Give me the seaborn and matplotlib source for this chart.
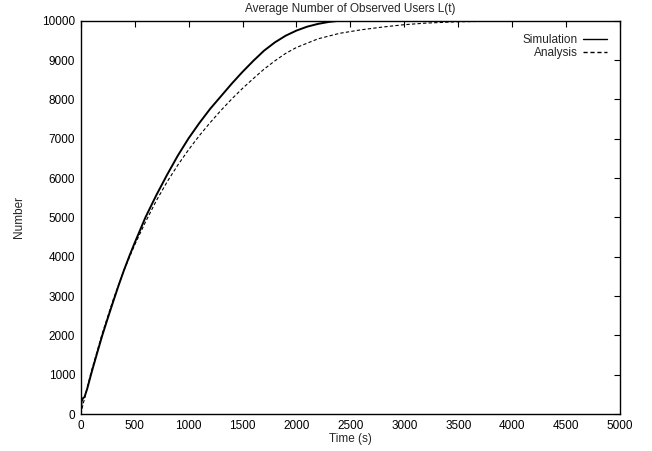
import matplotlib
matplotlib.use("Agg")
import matplotlib.pyplot as plt
import seaborn as sns
import pandas as pd

# Simulation run: average number of observed users over time
sim_time = [0, 8, 20, 35, 60, 100, 150, 200, 250, 300, 350, 400, 450, 500,
            600, 700, 800, 900, 1000, 1100, 1200, 1300, 1400, 1500, 1600,
            1700, 1800, 1900, 2000, 2100, 2200, 2300, 2400, 3000, 4000, 5000]
sim_users = [0, 320, 400, 430, 640, 1050, 1530, 2000, 2430, 2850, 3260, 3650,
             4010, 4350, 5000, 5560, 6080, 6570, 7010, 7400, 7760, 8080, 8400,
             8700, 8980, 9240, 9450, 9620, 9750, 9850, 9920, 9970, 10000,
             10000, 10000, 10000]

# Analytical model
ana_time = [0, 50, 100, 200, 300, 400, 500, 600, 700, 800, 900, 1000, 1100,
            1200, 1300, 1400, 1500, 1600, 1700, 1800, 1900, 2000, 2200, 2400,
            2600, 2800, 3000, 3200, 3500, 4000, 4500, 5000]
ana_users = [0, 560, 1100, 2050, 2900, 3650, 4300, 4880, 5420, 5900, 6330,
             6720, 7080, 7410, 7720, 8010, 8280, 8530, 8770, 8980, 9170, 9320,
             9540, 9680, 9770, 9840, 9900, 9940, 9975, 9995, 10000, 10000]

x_ticks = list(range(0, 5001, 500))
y_ticks = list(range(0, 10001, 1000))

sns.set_theme(style="white")
plt.rcParams["font.family"] = ["Liberation Sans", "DejaVu Sans"]

fig = plt.figure(figsize=(6.52, 4.51), dpi=100)
ax = fig.add_axes([0.1238, 0.082, 0.951 - 0.1238, 0.954 - 0.082])

sim_df = pd.DataFrame({"t": sim_time, "n": sim_users})
ana_df = pd.DataFrame({"t": ana_time, "n": ana_users})

sns.lineplot(data=sim_df, x="t", y="n", ax=ax, color="black", linewidth=1.4,
             label="Simulation", estimator=None, sort=False)
sns.lineplot(data=ana_df, x="t", y="n", ax=ax, color="black", linewidth=0.8,
             linestyle=(0, (3, 2)), label="Analysis", estimator=None, sort=False)

ax.set_xlim(0, 5000)
ax.set_ylim(0, 10000)
ax.set_xticks(x_ticks)
ax.set_yticks(y_ticks)
ax.tick_params(direction="in", length=4, width=0.8, top=True, right=True,
               labelsize=8.5, colors="black", pad=4)
for s in ax.spines.values():
    s.set_visible(True)
    s.set_color("black")
    s.set_linewidth(1.0)

ax.set_title("Average Number of Observed Users L(t)", fontsize=8.5, pad=6)
ax.set_xlabel("Time (s)", fontsize=8.5, labelpad=1)
ax.set_ylabel("Number", fontsize=8.5, labelpad=12.5)

leg = ax.legend(loc="upper right", frameon=False, fontsize=8.5,
                markerfirst=False, handlelength=2.0, handletextpad=0.5,
                labelspacing=0.1, borderaxespad=0.7)
for line in leg.get_lines():
    line.set_linewidth(1.0)

fig.savefig("out.png", dpi=100)
